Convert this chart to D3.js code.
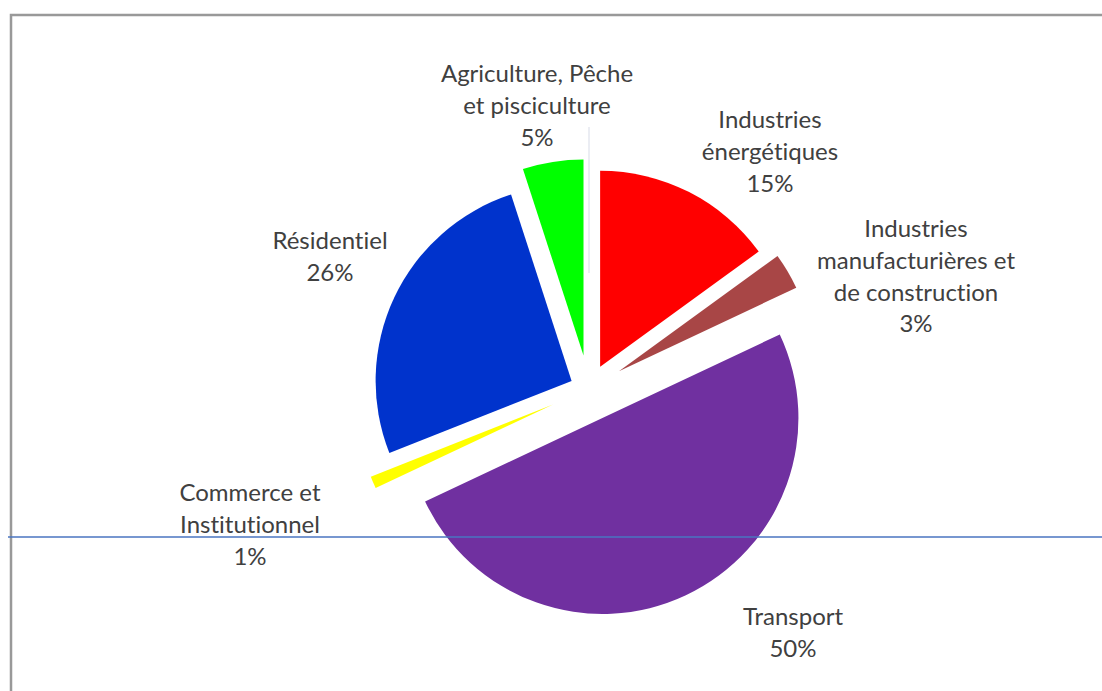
<!DOCTYPE html>
<html>
<head>
<meta charset="utf-8">
<script src="https://cdn.jsdelivr.net/npm/d3@7"></script>
<style>
  body { margin: 0; background: #fff; }
  svg { display: block; }
  .lbl { font-family: Lato, "Open Sans", sans-serif; font-size: 24px; fill: #404040;
         font-variant-ligatures: none; }
</style>
</head>
<body>
<div id="chart"></div>
<script>
// data, clockwise from 12 o'clock
const categories = [
  ["Industries", "énergétiques"],
  ["Industries", "manufacturières et", "de construction"],
  ["Transport"],
  ["Commerce et", "Institutionnel"],
  ["Résidentiel"],
  ["Agriculture, Pêche", "et pisciculture"]
];
const values = [15, 3, 50, 1, 26, 5];
const colors = ["#ff0000", "#a84646", "#7030a0", "#ffff00", "#0033cc", "#00ff00"];

// how far each slice is pulled out, px
const explode = [25, 35, 32, 39, 19, 34];
// label centre (x, y of first line)
const labelAt = [[770, 120], [916, 229], [793, 617], [250, 493], [330, 241], [537, 74]];

const width = 1102, height = 691;
const cx = 588.8, cy = 389, radius = 196;

const svg = d3.select("#chart")
              .append("svg")
              .attr("width", width)
              .attr("height", height);

// frame
svg.append("path")
   .attr("d", `M11,${height} V15 H${width}`)
   .attr("fill", "none")
   .attr("stroke", "#999")
   .attr("stroke-width", 2.5);

// faint leader line
svg.append("line")
   .attr("x1", 589).attr("x2", 589)
   .attr("y1", 127).attr("y2", 273)
   .attr("stroke", "#e4e7ef")
   .attr("stroke-width", 1.5);

const pie = d3.pie().sort(null).value(d => d);
const arc = d3.arc().innerRadius(0).outerRadius(radius);

const arcs = pie(values);

const g = svg.append("g")
             .attr("transform", `translate(${cx},${cy})`);

g.selectAll("path")
 .data(arcs)
 .join("path")
 .attr("d", arc)
 .attr("fill", (d, i) => colors[i])
 .attr("transform", (d, i) => {
   const a = (d.startAngle + d.endAngle) / 2;
   return `translate(${explode[i] * Math.sin(a)},${-explode[i] * Math.cos(a)})`;
 });

// labels
const lineH = 31.8;
arcs.forEach((d, i) => {
  const lines = categories[i].concat([values[i] + "%"]);
  const t = svg.append("text")
               .attr("class", "lbl")
               .attr("text-anchor", "middle");
  lines.forEach((s, k) => {
    t.append("tspan")
     .attr("x", labelAt[i][0])
     .attr("y", labelAt[i][1] + k * lineH + 8)
     .text(s);
  });
});

// blue horizontal rule
svg.append("line")
   .attr("x1", 8).attr("x2", width)
   .attr("y1", 537).attr("y2", 537)
   .attr("stroke", "#4a74c0")
   .attr("stroke-width", 1.5);
</script>
</body>
</html>
